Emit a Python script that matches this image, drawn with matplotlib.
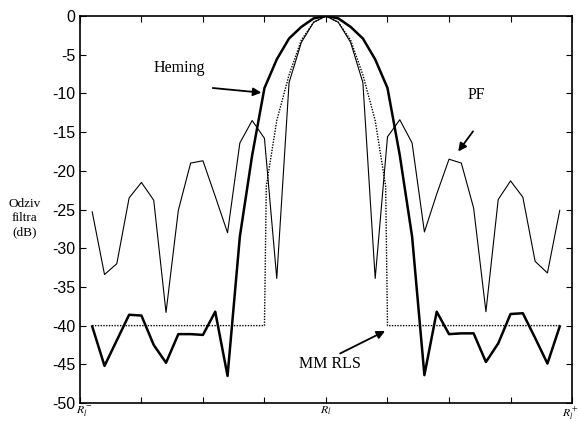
import matplotlib.pyplot as plt
import matplotlib.transforms as mtransforms
import numpy as np

# frekvencijska osa (normalizovana), korak 0.2
freq = np.round(np.arange(-3.8, 3.81, 0.2), 2)

# Hemingov prozor
heming = [-40.1, -45.2, -41.9, -38.6, -38.7, -42.5, -44.8, -41.1, -41.1, -41.2,
          -38.2, -46.5, -28.5, -18.0, -9.3, -5.6, -2.9, -1.4, -0.3, 0.0,
          -0.3, -1.4, -2.9, -5.6, -9.3, -18.0, -28.5, -46.4, -38.2, -41.1,
          -41.0, -41.0, -44.7, -42.3, -38.5, -38.4, -41.6, -44.9, -40.1]

# PF
pf = [-25.3, -33.4, -32.0, -23.5, -21.5, -23.8, -38.3, -25.1, -19.0, -18.7,
      -23.3, -28.0, -16.4, -13.5, -15.8, -33.9, -8.6, -3.4, -0.8, 0.0,
      -0.8, -3.4, -8.6, -33.9, -15.6, -13.4, -16.4, -27.9, -23.0, -18.5,
      -19.0, -24.8, -38.2, -23.7, -21.3, -23.4, -31.7, -33.2, -25.1]

# MM RLS
mm_freq = [-3.8, -1.0, -0.97, -0.8, -0.6, -0.4, -0.2, 0.0,
           0.2, 0.4, 0.6, 0.8, 0.97, 1.0, 3.8]
mm_rls = [-40.0, -40.0, -22.0, -13.5, -7.6, -3.1, -0.8, 0.0,
          -0.8, -3.1, -7.6, -13.5, -22.0, -40.0, -40.0]

y_ticks = np.arange(-50, 1, 5)
x_ticks = np.arange(-4, 5, 1)
x_labels = ['$R_l^-$', '', '', '', '$R_l$', '', '', '', '$R_l^+$']

plt.rcParams['mathtext.fontset'] = 'stix'
fig = plt.figure(figsize=(5.79, 4.22), dpi=100)
ax = fig.add_axes([0.138, 0.045, 0.850, 0.917])

ax.plot(freq, pf, color='black', lw=0.8)
ax.plot(mm_freq, mm_rls, color='black', lw=1.0, linestyle=(0, (1, 1)))
ax.plot(freq, heming, color='black', lw=1.8)

ax.set_xlim(-4, 4)
ax.set_ylim(-50, 0)
ax.set_yticks(y_ticks)
ax.set_yticklabels([str(v) for v in y_ticks], family='Liberation Sans', fontsize=11.5)
ax.set_xticks(x_ticks)
ax.set_xticklabels(x_labels, fontsize=8.5)
ax.tick_params(direction='in', length=4, width=0.8, top=True, right=True)
ax.tick_params(axis='x', pad=1)
ax.tick_params(axis='y', pad=3)
for s in ax.spines.values():
    s.set_linewidth(1.2)

# rubne oznake pomjerene da ne izlaze van slike
xl = ax.get_xticklabels()
xl[0].set_transform(xl[0].get_transform() +
                    mtransforms.ScaledTranslation(0.04, 0, fig.dpi_scale_trans))
xl[-1].set_transform(xl[-1].get_transform() +
                     mtransforms.ScaledTranslation(-0.02, 0, fig.dpi_scale_trans))

serif = 'Liberation Serif'
fig.text(0.043, 0.483, 'Odziv\nfiltra\n(dB)', family=serif, fontsize=9.5,
         ha='center', va='center', linespacing=1.25)

ax.annotate('', xy=(-1.05, -9.9), xytext=(-1.84, -9.3),
            arrowprops=dict(arrowstyle='-|>', color='black', lw=1.3,
                            mutation_scale=12, shrinkA=0, shrinkB=0))
ax.text(-2.39, -6.7, 'Heming', family=serif, fontsize=11.5, ha='center', va='center')
ax.annotate('', xy=(2.15, -17.5), xytext=(2.39, -14.9),
            arrowprops=dict(arrowstyle='-|>', color='black', lw=1.3,
                            mutation_scale=12, shrinkA=0, shrinkB=0))
ax.text(2.45, -10.2, 'PF', family=serif, fontsize=11.5, ha='center', va='center')
ax.annotate('', xy=(0.96, -40.7), xytext=(0.23, -43.6),
            arrowprops=dict(arrowstyle='-|>', color='black', lw=1.3,
                            mutation_scale=12, shrinkA=0, shrinkB=0))
ax.text(0.07, -44.9, 'MM RLS', family=serif, fontsize=11.5, ha='center', va='center')

fig.savefig('out.png', dpi=100)
